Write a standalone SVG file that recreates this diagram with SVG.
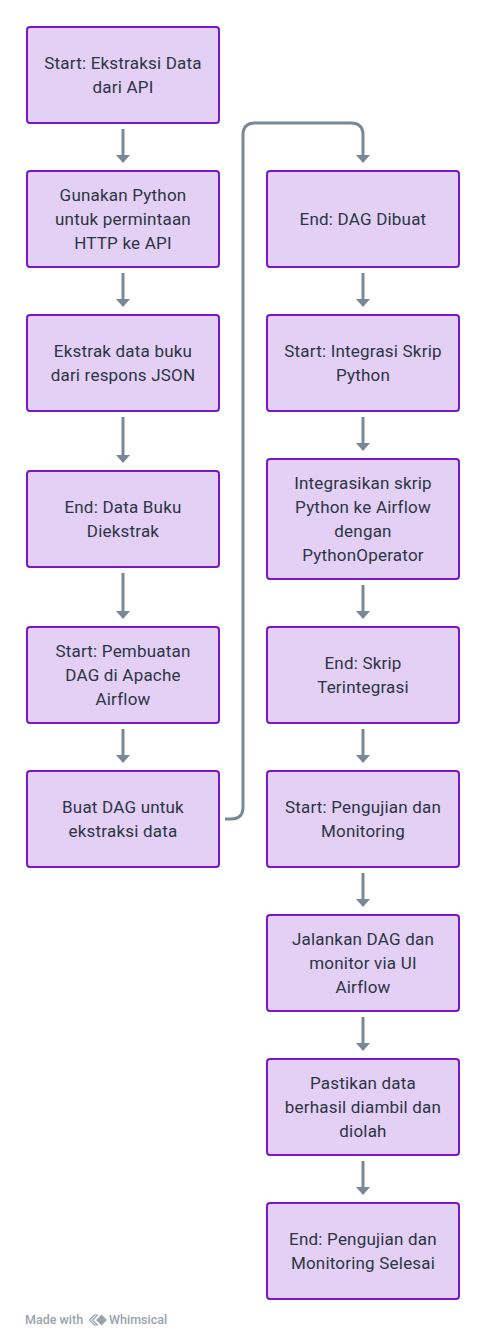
<svg xmlns="http://www.w3.org/2000/svg" width="486" height="1339" viewBox="0 0 486 1339">
<style>
.box{fill:#E3D0F4;stroke:#7B16C9;stroke-width:2}
.t{font-family:Roboto,"Liberation Sans",sans-serif;font-size:17px;letter-spacing:0.2px;fill:#2D3545;text-anchor:middle}
.c{fill:none;stroke:#7A8796;stroke-width:3}
.wm{font-family:Roboto,"Liberation Sans",sans-serif;font-size:12.5px;font-weight:500;fill:#9AA3AD}
</style>
<defs>
<marker id="ah" markerUnits="userSpaceOnUse" markerWidth="8" markerHeight="14" viewBox="0 0 8 14" refX="0" refY="7" orient="auto">
<path d="M0,0 L8,7 L0,14 z" fill="#7A8796"/>
</marker>
</defs>
<rect width="486" height="1339" fill="#FFFFFF"/>
<g id="connectors">
<path class="c" marker-end="url(#ah)" d="M123 129 V155"/>
<path class="c" marker-end="url(#ah)" d="M123 273 V299"/>
<path class="c" marker-end="url(#ah)" d="M123 417 V455"/>
<path class="c" marker-end="url(#ah)" d="M123 573 V611"/>
<path class="c" marker-end="url(#ah)" d="M123 729 V755"/>
<path class="c" marker-end="url(#ah)" d="M225 819 H231 Q243 819 243 807 V135 Q243 123 255 123 H351 Q363 123 363 135 V155"/>
<path class="c" marker-end="url(#ah)" d="M363 273 V299"/>
<path class="c" marker-end="url(#ah)" d="M363 417 V443"/>
<path class="c" marker-end="url(#ah)" d="M363 585 V611"/>
<path class="c" marker-end="url(#ah)" d="M363 729 V755"/>
<path class="c" marker-end="url(#ah)" d="M363 873 V899"/>
<path class="c" marker-end="url(#ah)" d="M363 1017 V1043"/>
<path class="c" marker-end="url(#ah)" d="M363 1161 V1187"/>
</g>
<g id="n1"><rect class="box" x="27" y="27" width="192" height="96" rx="3"/><text class="t" x="123" y="69">Start: Ekstraksi Data</text><text class="t" x="123" y="93">dari API</text></g>
<g id="n2"><rect class="box" x="27" y="171" width="192" height="96" rx="3"/><text class="t" x="123" y="201">Gunakan Python</text><text class="t" x="123" y="225">untuk permintaan</text><text class="t" x="123" y="249">HTTP ke API</text></g>
<g id="n3"><rect class="box" x="27" y="315" width="192" height="96" rx="3"/><text class="t" x="123" y="357">Ekstrak data buku</text><text class="t" x="123" y="381">dari respons JSON</text></g>
<g id="n4"><rect class="box" x="27" y="471" width="192" height="96" rx="3"/><text class="t" x="123" y="513">End: Data Buku</text><text class="t" x="123" y="537">Diekstrak</text></g>
<g id="n5"><rect class="box" x="27" y="627" width="192" height="96" rx="3"/><text class="t" x="123" y="657">Start: Pembuatan</text><text class="t" x="123" y="681">DAG di Apache</text><text class="t" x="123" y="705">Airflow</text></g>
<g id="n6"><rect class="box" x="27" y="771" width="192" height="96" rx="3"/><text class="t" x="123" y="813">Buat DAG untuk</text><text class="t" x="123" y="837">ekstraksi data</text></g>
<g id="n7"><rect class="box" x="267" y="171" width="192" height="96" rx="3"/><text class="t" x="363" y="225">End: DAG Dibuat</text></g>
<g id="n8"><rect class="box" x="267" y="315" width="192" height="96" rx="3"/><text class="t" x="363" y="357">Start: Integrasi Skrip</text><text class="t" x="363" y="381">Python</text></g>
<g id="n9"><rect class="box" x="267" y="459" width="192" height="120" rx="3"/><text class="t" x="363" y="489">Integrasikan skrip</text><text class="t" x="363" y="513">Python ke Airflow</text><text class="t" x="363" y="537">dengan</text><text class="t" x="363" y="561">PythonOperator</text></g>
<g id="n10"><rect class="box" x="267" y="627" width="192" height="96" rx="3"/><text class="t" x="363" y="669">End: Skrip</text><text class="t" x="363" y="693">Terintegrasi</text></g>
<g id="n11"><rect class="box" x="267" y="771" width="192" height="96" rx="3"/><text class="t" x="363" y="813">Start: Pengujian dan</text><text class="t" x="363" y="837">Monitoring</text></g>
<g id="n12"><rect class="box" x="267" y="915" width="192" height="96" rx="3"/><text class="t" x="363" y="945">Jalankan DAG dan</text><text class="t" x="363" y="969">monitor via UI</text><text class="t" x="363" y="993">Airflow</text></g>
<g id="n13"><rect class="box" x="267" y="1059" width="192" height="96" rx="3"/><text class="t" x="363" y="1089">Pastikan data</text><text class="t" x="363" y="1113">berhasil diambil dan</text><text class="t" x="363" y="1137">diolah</text></g>
<g id="n14"><rect class="box" x="267" y="1203" width="192" height="96" rx="3"/><text class="t" x="363" y="1245">End: Pengujian dan</text><text class="t" x="363" y="1269">Monitoring Selesai</text></g>
<g id="watermark">
<text class="wm" x="25" y="1324">Made with</text>
<path d="M89.5 1320 L94.5 1315 L97.5 1315 L92.5 1320 L97.5 1325 L94.5 1325 Z" fill="none" stroke="#9AA3AD" stroke-width="1.2" stroke-linejoin="round"/>
<path d="M96 1320 L101.5 1314.5 L107 1320 L101.5 1325.5 Z" fill="#9AA3AD"/>
<text class="wm" x="109" y="1324">Whimsical</text>
</g>
</svg>
